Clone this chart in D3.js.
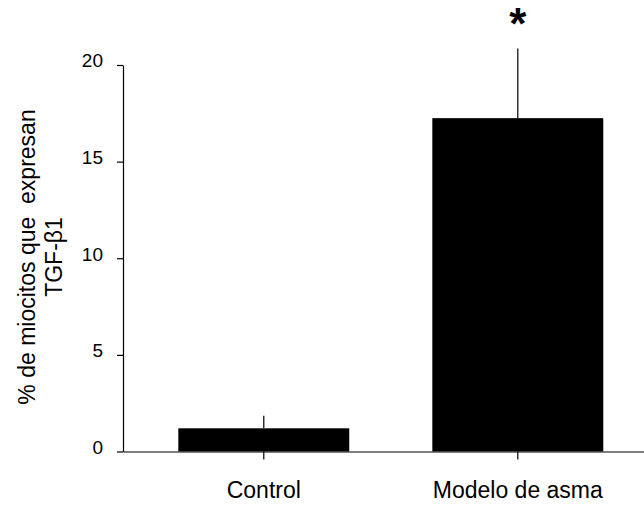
<!DOCTYPE html>
<html>
<head>
<meta charset="utf-8">
<script src="https://cdn.jsdelivr.net/npm/d3@7"></script>
<style>
  body { margin: 0; background: #fff; }
  svg { display: block; font-family: "Liberation Sans", Arial, sans-serif; }
</style>
</head>
<body>
<svg id="chart"></svg>
<script>
var width = 644;
var height = 507;

// data
var groups = ["Control", "Modelo de asma"];
var means = [1.2, 17.25];
var errors = [0.65, 3.6];
var yTicks = [0, 5, 10, 15, 20];
var marks = ["", "*"];

var svg = d3.select("#chart")
  .attr("width", width)
  .attr("height", height);

var x = d3.scaleBand()
  .domain(groups)
  .range([123, 645])
  .paddingInner(0.327)
  .paddingOuter(0.191)
  .align(0.57);

var y = d3.scaleLinear()
  .domain([0, 20])
  .range([451.5, 65]);

// bars
svg.append("g").selectAll("rect")
  .data(groups)
  .enter()
  .append("rect")
  .attr("x", function(d) { return x(d); })
  .attr("width", x.bandwidth())
  .attr("y", function(d, i) { return y(means[i]); })
  .attr("height", function(d, i) { return y(0) - y(means[i]); })
  .attr("fill", "#000");

// upper error whiskers
svg.append("g").selectAll("line")
  .data(groups)
  .enter()
  .append("line")
  .attr("x1", function(d) { return x(d) + x.bandwidth()/2; })
  .attr("x2", function(d) { return x(d) + x.bandwidth()/2; })
  .attr("y1", function(d, i) { return y(means[i]); })
  .attr("y2", function(d, i) { return y(means[i] + errors[i]); })
  .attr("stroke", "#000")
  .attr("stroke-width", 1.2);

// significance marks
svg.append("g").selectAll("text")
  .data(groups)
  .enter()
  .append("text")
  .attr("x", function(d) { return x(d) + x.bandwidth()/2; })
  .attr("y", function(d, i) { return y(means[i] + errors[i]) - 10; })
  .attr("text-anchor", "middle")
  .attr("font-size", 44)
  .attr("font-weight", "bold")
  .text(function(d, i) { return marks[i]; });

// axes
var yAxis = svg.append("g")
  .attr("transform", "translate(123,0)")
  .call(d3.axisLeft(y).tickValues(yTicks).tickSize(6).tickSizeOuter(0).tickPadding(14));

var xAxis = svg.append("g")
  .attr("transform", "translate(0,451.5)")
  .call(d3.axisBottom(x).tickSize(8).tickSizeOuter(0).tickPadding(22));

yAxis.selectAll("text")
  .attr("font-size", 19)
  .attr("font-family", "Liberation Sans, Arial, sans-serif")
  .attr("dy", "0.1em")
  .attr("fill", "#000");
xAxis.selectAll("text")
  .attr("font-size", 23)
  .attr("font-family", "Liberation Sans, Arial, sans-serif")
  .attr("fill", "#000");
svg.selectAll(".domain, .tick line")
  .attr("stroke", "#000")
  .attr("stroke-width", 1.2);

// y title, two lines
var title = svg.append("text")
  .attr("transform", "translate(35,257) rotate(-90)")
  .attr("text-anchor", "middle")
  .attr("font-size", 23);
title.append("tspan").attr("x", 0).attr("y", 0).attr("xml:space", "preserve").text("% de miocitos que  expresan");
title.append("tspan").attr("x", 0).attr("y", 27).text("TGF-\u03b21");
</script>
</body>
</html>
